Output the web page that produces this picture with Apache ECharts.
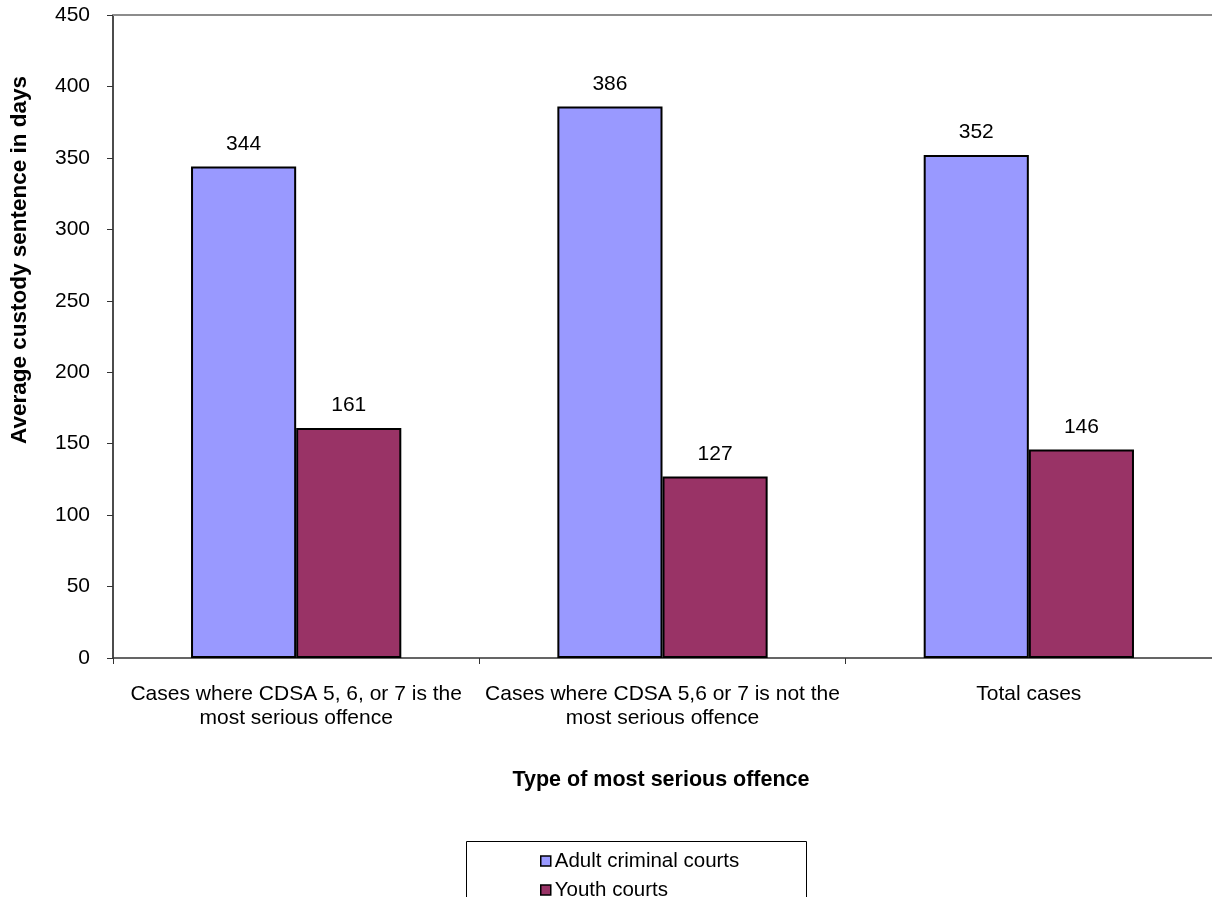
<!DOCTYPE html>
<html><head><meta charset="utf-8">
<script src="https://cdn.jsdelivr.net/npm/echarts@6/dist/echarts.min.js"></script>
<style>html,body{margin:0;padding:0;background:#fff}#c{width:1212px;height:897px}</style>
</head><body><div id="c"></div>
<script>
var categories = ['Cases where CDSA 5, 6, or 7 is the\nmost serious offence', 'Cases where CDSA 5,6 or 7 is not the\nmost serious offence', 'Total cases'];
var adultValues = [344, 386, 352];
var youthValues = [161, 127, 146];
var seriesNames = ['Adult criminal courts', 'Youth courts'];
var yMin = 0, yMax = 450, yInterval = 50;

var F = 'Liberation Sans, Arial, sans-serif';
var FS = 21;
var legendBase = {
  orient: 'vertical', left: 535, itemWidth: 10, itemHeight: 10,
  icon: 'rect',
  itemStyle: {borderColor: '#000', borderWidth: 1.5},
  textStyle: {color: '#000', fontFamily: F, fontSize: 20.5, lineHeight: 22, padding: [0, 0, 0, -1]}
};
var chart = echarts.init(document.getElementById('c'));
chart.setOption({
  animation: false,
  grid: {left: 113, right: 0, top: 15, bottom: 239},
  xAxis: [{
    type: 'category', data: categories,
    axisLine: {lineStyle: {color: '#333', width: 1.5}},
    axisTick: {show: true, length: 6, lineStyle: {color: '#333'}},
    axisLabel: {color: '#000', fontFamily: F, fontSize: FS, lineHeight: 24, margin: 24, interval: 0}
  }, {
    type: 'category', data: categories, position: 'top',
    axisLine: {show: true, lineStyle: {color: '#8c8c8c', width: 2}},
    axisTick: {show: false}, axisLabel: {show: false}
  }],
  yAxis: {
    type: 'value', min: yMin, max: yMax, interval: yInterval,
    axisLine: {show: true, lineStyle: {color: '#111', width: 1.5}},
    axisTick: {show: true, length: 6, lineStyle: {color: '#333'}},
    splitLine: {show: false},
    axisLabel: {color: '#000', fontFamily: F, fontSize: FS, margin: 23}
  },
  legend: [
    Object.assign({}, legendBase, {top: 845, data: [seriesNames[0]]}),
    Object.assign({}, legendBase, {top: 874, data: [seriesNames[1]]})
  ],
  graphic: [
    {type: 'rect', shape: {x: 466.5, y: 841.5, width: 340, height: 80}, style: {fill: 'none', stroke: '#000', lineWidth: 1}, z: -1},
    {type: 'text', x: 20, y: 260, rotation: Math.PI / 2,
     style: {text: 'Average custody sentence in days', fontFamily: F, fontSize: 22.5, fontWeight: 'bold', fill: '#000', align: 'center', verticalAlign: 'middle'}},
    {type: 'text', x: 661, y: 780,
     style: {text: 'Type of most serious offence', fontFamily: F, fontSize: 21.5, fontWeight: 'bold', fill: '#000', align: 'center', verticalAlign: 'middle'}}
  ],
  series: [{
    name: seriesNames[0], type: 'bar', data: adultValues, barGap: '0%', barCategoryGap: '42.6%',
    itemStyle: {color: '#9999FF', borderColor: '#000', borderWidth: 2},
    label: {show: true, position: 'top', distance: 12, color: '#000', fontFamily: F, fontSize: FS}
  }, {
    name: seriesNames[1], type: 'bar', data: youthValues,
    itemStyle: {color: '#993366', borderColor: '#000', borderWidth: 2},
    label: {show: true, position: 'top', distance: 12, color: '#000', fontFamily: F, fontSize: FS}
  }]
});
</script></body></html>
